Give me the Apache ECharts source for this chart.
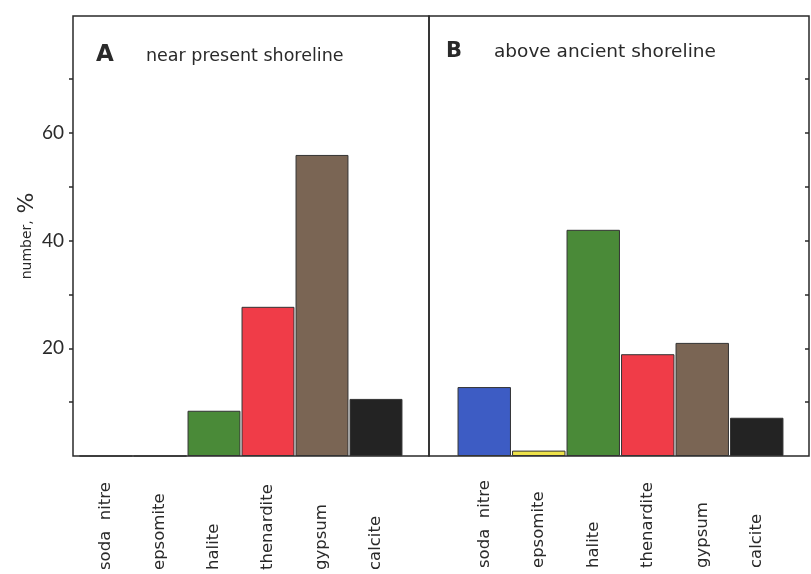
<!DOCTYPE html>
<html>
<head>
<meta charset="utf-8">
<script src="https://cdn.jsdelivr.net/npm/echarts@6/dist/echarts.min.js"></script>
<style>html,body{margin:0;padding:0;background:#fff;}#c{width:811px;height:574px;}</style>
</head>
<body>
<div id="c"></div>
<script>
// ---- data ----
const categories = ['soda  nitre', 'epsomite', 'halite', 'thenardite', 'gypsum', 'calcite'];
const valuesA = [0, 0, 8.4, 27.7, 55.9, 10.6];   // A: near present shoreline
const valuesB = [12.8, 1.0, 42.0, 18.9, 21.0, 7.1]; // B: above ancient shoreline
const yTickValues = [10, 20, 30, 40, 50, 60, 70];
const yLabelValues = [20, 40, 60];
const panelTitles = ['near present shoreline', 'above ancient shoreline'];
const panelLetters = ['A', 'B'];
const yName = 'number,';
const yNameUnit = '%';

// ---- style ----
const mineralColors = ['#3d5cc4', '#eee24a', '#4a8a38', '#f03c48', '#7a6554', '#232323'];
const YMAX = 81.7;
const FONT = '"DejaVu Sans", sans-serif';
const NUMFONT = 'Lato, "DejaVu Sans", sans-serif';
const ink = '#2a2a2a';

const chart = echarts.init(document.getElementById('c'), null, {renderer: 'canvas'});

function colored(vals) {
  return vals.map((v, i) => ({value: v, itemStyle: {color: mineralColors[i]}}));
}

const frameTop = 16, frameBottom = 574 - 456;

const option = {
  backgroundColor: '#fff',
  animation: false,
  title: [
    {text: panelLetters[0], left: 91, top: 39, textStyle: {fontFamily: FONT, fontWeight: 'bold', fontSize: 23, color: ink}},
    {text: panelTitles[0], left: 141, top: 42, textStyle: {fontFamily: FONT, fontWeight: 'normal', fontSize: 17.5, color: ink}},
    {text: panelLetters[1], left: 441, top: 36, textStyle: {fontFamily: FONT, fontWeight: 'bold', fontSize: 21, color: ink}},
    {text: panelTitles[1], left: 489, top: 38, textStyle: {fontFamily: FONT, fontWeight: 'normal', fontSize: 18.5, color: ink}}
  ],
  grid: [
    {left: 73, width: 356, top: frameTop, bottom: frameBottom, show: true, borderColor: ink, borderWidth: 1.5, backgroundColor: 'transparent'},
    {left: 429, width: 380, top: frameTop, bottom: frameBottom, show: true, borderColor: ink, borderWidth: 1.5, backgroundColor: 'transparent'},
    {left: 79, width: 324, top: frameTop, bottom: frameBottom},
    {left: 457, width: 327, top: frameTop, bottom: frameBottom}
  ],
  xAxis: [
    {gridIndex: 0, type: 'category', data: categories, show: false},
    {gridIndex: 1, type: 'category', data: categories, show: false},
    {gridIndex: 2, type: 'category', data: categories, axisLine: {show: false}, axisTick: {show: false},
     axisLabel: {rotate: 90, align: 'left', verticalAlign: 'middle', margin: 114, interval: 0, fontFamily: FONT, fontSize: 16.5, color: ink}},
    {gridIndex: 3, type: 'category', data: categories, axisLine: {show: false}, axisTick: {show: false},
     axisLabel: {rotate: 90, align: 'left', verticalAlign: 'middle', margin: 112, interval: 0, fontFamily: FONT, fontSize: 16.5, color: ink}}
  ],
  yAxis: [
    {gridIndex: 0, type: 'value', min: 0, max: YMAX, position: 'left',
     axisLine: {show: false}, splitLine: {show: false},
     axisTick: {show: true, length: 4, customValues: yTickValues, lineStyle: {color: ink, width: 1.5}},
     axisLabel: {customValues: yLabelValues, margin: 9, fontFamily: NUMFONT, fontSize: 19, color: ink},
     name: '{n|' + yName + '}  {p|' + yNameUnit + '}', nameLocation: 'middle', nameGap: 34, nameRotate: 90,
     nameTextStyle: {rich: {n: {fontFamily: FONT, fontSize: 14, color: ink}, p: {fontFamily: FONT, fontSize: 22, color: ink}}}},
    {gridIndex: 1, type: 'value', min: 0, max: YMAX, position: 'right',
     axisLine: {show: false}, splitLine: {show: false},
     axisTick: {show: true, inside: true, length: 4, customValues: yTickValues, lineStyle: {color: ink, width: 1.5}},
     axisLabel: {show: false}},
    {gridIndex: 2, type: 'value', min: 0, max: YMAX, show: false},
    {gridIndex: 3, type: 'value', min: 0, max: YMAX, show: false}
  ],
  series: [
    {type: 'bar', xAxisIndex: 2, yAxisIndex: 2, data: colored(valuesA), barCategoryGap: '2%',
     itemStyle: {borderColor: '#333', borderWidth: 1}},
    {type: 'bar', xAxisIndex: 3, yAxisIndex: 3, data: colored(valuesB), barCategoryGap: '2%',
     itemStyle: {borderColor: '#333', borderWidth: 1}}
  ]
};
chart.setOption(option);
</script>
</body>
</html>
